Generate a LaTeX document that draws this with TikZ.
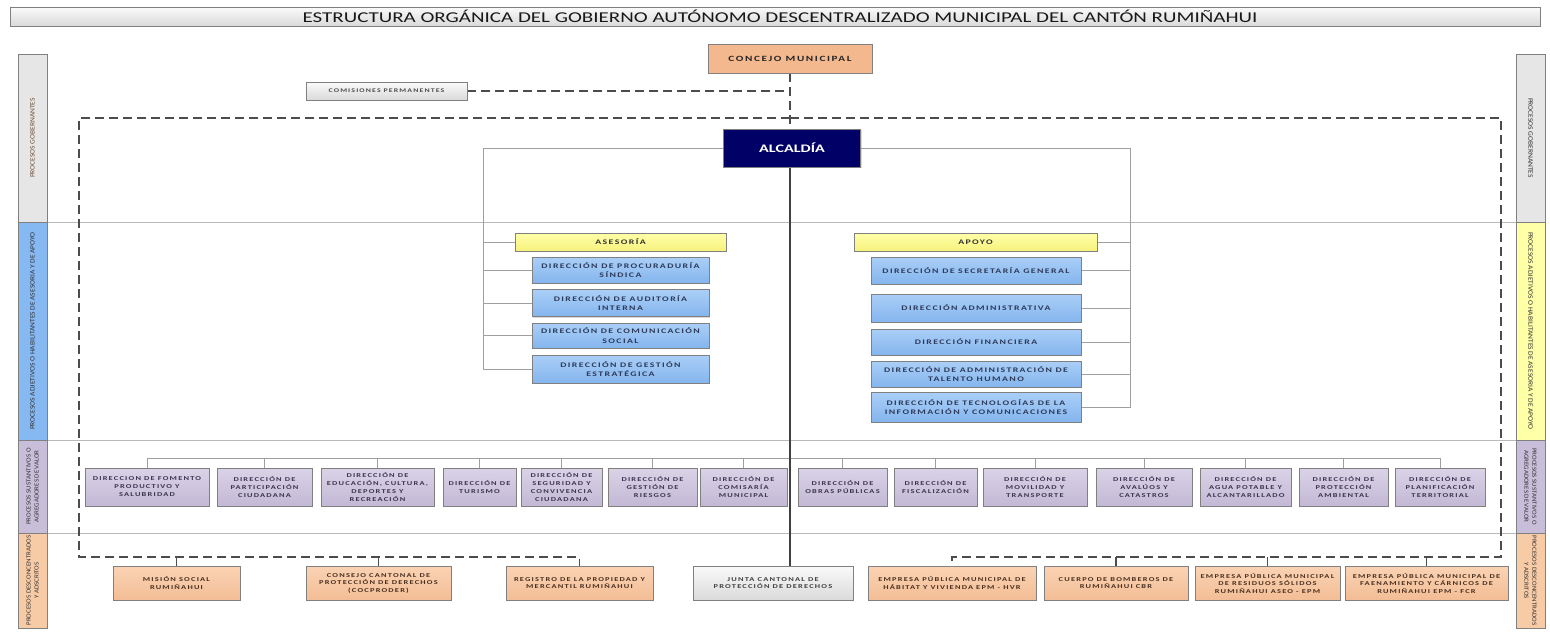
\documentclass[tikz,border=0pt]{standalone}
\usepackage{fontspec}
\setmainfont{Carlito}[FakeStretch=1.4]
\newfontfamily\boxf{Carlito}[FakeStretch=1.4,LetterSpace=20]
\newfontfamily\sidef{Carlito}[FakeStretch=1.1]
\usetikzlibrary{shadows,backgrounds}
\definecolor{bord}{HTML}{808080}
\definecolor{blueT}{HTML}{AACFF7}
\definecolor{blueB}{HTML}{84B5EE}
\definecolor{blueTx}{HTML}{2E3A59}
\definecolor{lavT}{HTML}{DAD3E7}
\definecolor{lavB}{HTML}{C3B8D5}
\definecolor{lavTx}{HTML}{3B3550}
\definecolor{peach}{HTML}{F8CBA7}
\definecolor{peachT}{HTML}{FAD3B4}
\definecolor{peachB}{HTML}{F3BD95}
\definecolor{peachTx}{HTML}{4A3020}
\definecolor{concejo}{HTML}{F3B88D}
\definecolor{yelT}{HTML}{FFFFAA}
\definecolor{yelB}{HTML}{F7F27C}
\definecolor{yelbar}{HTML}{FFFFA8}
\definecolor{greyT}{HTML}{FAFAFA}
\definecolor{greyB}{HTML}{DADADA}
\definecolor{greybar}{HTML}{E6E6E6}
\definecolor{bluebar}{HTML}{86B8F2}
\definecolor{lavbar}{HTML}{C9BEDA}
\definecolor{navy}{HTML}{000066}
\definecolor{sidetx}{HTML}{333333}
\definecolor{sidebr}{HTML}{6E5034}
\tikzset{
  bx/.style={draw=bord, line width=0.7pt, inner sep=0pt, align=center,
    drop shadow={shadow xshift=1.3pt, shadow yshift=-1.3pt, opacity=0.3}},
  bluebox/.style={bx, top color=blueT, bottom color=blueB, text=blueTx,
    font=\boxf\bfseries\fontsize{7}{9.5}\selectfont},
  lavbox/.style={bx, top color=lavT, bottom color=lavB, text=lavTx,
    font=\boxf\bfseries\fontsize{6}{8}\selectfont, minimum height=38pt},
  peachbox/.style={bx, top color=peachT, bottom color=peachB, text=peachTx,
    font=\boxf\bfseries\fontsize{6}{7.5}\selectfont, minimum height=34pt},
  greybox/.style={bx, top color=greyT, bottom color=greyB, text=black!75},
  yelbox/.style={bx, top color=yelT, bottom color=yelB, text=black!80,
    font=\boxf\bfseries\fontsize{7}{8}\selectfont, minimum height=18pt},
  sidebar/.style={draw=bord, line width=0.7pt, minimum width=29pt, inner sep=0pt,
    drop shadow={shadow xshift=1.3pt, shadow yshift=-1.3pt, opacity=0.3}},
  sidetxt/.style={font=\sidef\fontsize{6.8}{7.5}\selectfont, text=sidetx, align=center, inner sep=0pt},
  sidetxtt/.style={sidetxt, font=\sidef\fontsize{6.3}{8}\selectfont},
  conn/.style={draw=gray!75, line width=0.9pt},
  spine/.style={draw=black!75, line width=1.4pt},
  dsh/.style={draw=black!70, line width=1.2pt, dash pattern=on 9pt off 5pt},
  sepline/.style={draw=gray!55, line width=1.4pt},
}
\begin{document}
\begin{tikzpicture}[x=1pt,y=-1pt]
\useasboundingbox (0,0) rectangle (1550,642);

% title
\node[greybox, minimum width=1530pt, minimum height=19pt,
  font=\fontsize{15}{16}\selectfont, text=black!90] (title) at (775,16.5)
  {\hspace{10pt}ESTRUCTURA ORGÁNICA DEL GOBIERNO AUTÓNOMO DESCENTRALIZADO MUNICIPAL DEL CANTÓN RUMIÑAHUI};

% side bars left
\node[sidebar, fill=greybar, minimum height=168pt] (lgob) at (32.5,138) {};
\node[sidebar, fill=bluebar, minimum height=218pt] (ladj) at (32.5,331) {};
\node[sidebar, fill=lavbar, minimum height=93pt] (lsus) at (32.5,486.5) {};
\node[sidebar, fill=peach, minimum height=95pt] (ldes) at (32.5,580.5) {};
\node[sidetxt, rotate=90, text=sidebr] (lgobt) at (lgob) {PROCESOS GOBERNANTES};
\node[sidetxt, rotate=90] (ladjt) at (ladj) {PROCESOS ADJETIVOS O HABILITANTES DE ASESORIA Y DE APOYO};
\node[sidetxtt, rotate=90] (lsust) at (lsus) {PROCESOS SUSTANTIVOS O\\AGREGADORES DE VALOR};
\node[sidetxtt, rotate=90] (ldest) at (ldes) {PROCESOS DESCONCENTRADOS\\Y ADSCRITOS};
% side bars right
\node[sidebar, fill=greybar, minimum height=168pt] (rgob) at (1530.5,138) {};
\node[sidebar, fill=yelbar, minimum height=218pt] (radj) at (1530.5,331) {};
\node[sidebar, fill=lavbar, minimum height=93pt] (rsus) at (1530.5,486.5) {};
\node[sidebar, fill=peach, minimum height=95pt] (rdes) at (1530.5,580.5) {};
\node[sidetxt, rotate=-90] (rgobt) at (rgob) {PROCESOS GOBERNANTES};
\node[sidetxt, rotate=-90] (radjt) at (radj) {PROCESOS ADJETIVOS O HABILITANTES DE ASESORIA Y DE APOYO};
\node[sidetxtt, rotate=-90] (rsust) at (rsus) {PROCESOS SUSTANTIVOS O\\AGREGADORES DE VALOR};
\node[sidetxtt, rotate=-90] (rdest) at (rdes) {PROCESOS DESCONCENTRADOS\\Y ADSCRITOS};

% top
\node[bx, fill=concejo, text=black!85, minimum width=164pt, minimum height=29pt,
  font=\boxf\bfseries\fontsize{8}{9}\selectfont] (conc) at (790,58.5) {CONCEJO MUNICIPAL};
\node[greybox, minimum width=161pt, minimum height=18pt, text=black!70,
  font=\boxf\bfseries\fontsize{5.6}{7}\selectfont] (comi) at (386.5,91) {COMISIONES PERMANENTES};
\node[bx, fill=navy, text=white, minimum width=137pt, minimum height=38pt,
  font=\bfseries\fontsize{11.5}{12}\selectfont] (alc) at (792,148) {ALCALDÍA};

% asesoria
\node[yelbox, minimum width=211pt] (ases) at (620.5,242) {ASESORÍA};
\node[bluebox, minimum width=177pt, minimum height=26pt] (proc) at (620.5,270) {DIRECCIÓN DE PROCURADURÍA\\SÍNDICA};
\node[bluebox, minimum width=177pt, minimum height=27pt] (aud) at (620.5,303) {DIRECCIÓN DE AUDITORÍA\\INTERNA};
\node[bluebox, minimum width=177pt, minimum height=25pt] (comu) at (620.5,335.5) {DIRECCIÓN DE COMUNICACIÓN\\SOCIAL};
\node[bluebox, minimum width=177pt, minimum height=28pt] (gest) at (620.5,369) {DIRECCIÓN DE GESTIÓN\\ESTRATÉGICA};
% apoyo
\node[yelbox, minimum width=243pt] (apo) at (975.5,242) {APOYO};
\node[bluebox, minimum width=210pt, minimum height=27pt] (sec) at (976,270.5) {DIRECCIÓN DE SECRETARÍA GENERAL};
\node[bluebox, minimum width=210pt, minimum height=28pt] (adm) at (976,308) {DIRECCIÓN ADMINISTRATIVA};
\node[bluebox, minimum width=210pt, minimum height=26pt] (fin) at (976,342) {DIRECCIÓN FINANCIERA};
\node[bluebox, minimum width=210pt, minimum height=26pt] (tal) at (976,374) {DIRECCIÓN DE ADMINISTRACIÓN DE\\TALENTO HUMANO};
\node[bluebox, minimum width=210pt, minimum height=30pt] (tec) at (976,407) {DIRECCIÓN DE TECNOLOGÍAS DE LA\\INFORMACIÓN Y COMUNICACIONES};

% sustantivos
\node[lavbox, minimum width=124pt] (fom) at (147,487) {DIRECCION DE FOMENTO\\PRODUCTIVO Y\\SALUBRIDAD};
\node[lavbox, minimum width=95pt] (par) at (264.5,487) {DIRECCIÓN DE\\PARTICIPACIÓN\\CIUDADANA};
\node[lavbox, minimum width=113pt] (edu) at (377.5,487) {DIRECCIÓN DE\\EDUCACIÓN, CULTURA,\\DEPORTES Y\\RECREACIÓN};
\node[lavbox, minimum width=73pt] (tur) at (479.5,487) {DIRECCIÓN DE\\TURISMO};
\node[lavbox, minimum width=81pt] (seg) at (561.5,487) {DIRECCIÓN DE\\SEGURIDAD Y\\CONVIVENCIA\\CIUDADANA};
\node[lavbox, minimum width=89pt] (rie) at (652.5,487) {DIRECCIÓN DE\\GESTIÓN DE\\RIESGOS};
\node[lavbox, minimum width=87pt] (cms) at (743.5,487) {DIRECCIÓN DE\\COMISARÍA\\MUNICIPAL};
\node[lavbox, minimum width=89pt] (obr) at (842.5,487) {DIRECCIÓN DE\\OBRAS PÚBLICAS};
\node[lavbox, minimum width=83pt] (fis) at (935.5,487) {DIRECCIÓN DE\\FISCALIZACIÓN};
\node[lavbox, minimum width=104pt] (mov) at (1035,487) {DIRECCIÓN DE\\MOVILIDAD Y\\TRANSPORTE};
\node[lavbox, minimum width=96pt] (ava) at (1144,487) {DIRECCIÓN DE\\AVALÚOS Y\\CATASTROS};
\node[lavbox, minimum width=91pt] (agu) at (1245.5,487) {DIRECCIÓN DE\\AGUA POTABLE Y\\ALCANTARILLADO};
\node[lavbox, minimum width=89pt] (amb) at (1343.5,487) {DIRECCIÓN DE\\PROTECCIÓN\\AMBIENTAL};
\node[lavbox, minimum width=90pt] (pla) at (1440,487) {DIRECCIÓN DE\\PLANIFICACIÓN\\TERRITORIAL};

% desconcentrados
\node[peachbox, minimum width=127pt] (mis) at (176.5,583) {MISIÓN SOCIAL\\RUMIÑAHUI};
\node[peachbox, minimum width=145pt] (ccpd) at (378.5,583) {CONSEJO CANTONAL DE\\PROTECCIÓN DE DERECHOS\\(COCPRODER)};
\node[peachbox, minimum width=147pt] (reg) at (579.5,583) {REGISTRO DE LA PROPIEDAD Y\\MERCANTIL RUMIÑAHUI};
\node[greybox, minimum width=160pt, minimum height=34pt,
  font=\boxf\bfseries\fontsize{6}{7.5}\selectfont] (jun) at (773,583) {JUNTA CANTONAL DE\\PROTECCIÓN DE DERECHOS};
\node[peachbox, minimum width=168pt] (hvr) at (952,583) {EMPRESA PÚBLICA MUNICIPAL DE\\HÁBITAT Y VIVIENDA EPM - HVR};
\node[peachbox, minimum width=144pt] (bom) at (1116,583) {CUERPO DE BOMBEROS DE\\RUMIÑAHUI CBR};
\node[peachbox, minimum width=145pt] (ase) at (1267.5,583) {EMPRESA PÚBLICA MUNICIPAL\\DE RESIDUOS SÓLIDOS\\RUMIÑAHUI ASEO - EPM};
\node[peachbox, minimum width=163pt] (fcr) at (1426.5,583) {EMPRESA PÚBLICA MUNICIPAL DE\\FAENAMIENTO Y CÁRNICOS DE\\RUMIÑAHUI EPM - FCR};

% helper coordinates
\coordinate (sp) at (790,0);
\coordinate (LB) at (483,147);
\coordinate (RB) at (1130,147);
\coordinate (sbar) at (0,458);
\coordinate (frTL) at (79,118);
\coordinate (frBL) at (79,557);
\coordinate (frTR) at (1501,118);
\coordinate (frBR) at (1501,557);

\begin{scope}[on background layer]
% separators
\draw[sepline] (lgob.south east) -- (rgob.south west);
\draw[sepline] (ladj.south east) -- (radj.south west);
\draw[sepline] (lsus.south east) -- (rsus.south west);
% alcaldia bracket
\draw[conn] (alc.west) -| (gest.west -| LB) -- (gest.west);
\foreach \n in {ases,proc,aud,comu} \draw[conn] (\n.west -| LB) -- (\n.west);
\draw[conn] (alc.east) -| (tec.east -| RB) -- (tec.east);
\foreach \n in {apo,sec,adm,fin,tal} \draw[conn] (\n.east -| RB) -- (\n.east);
% sustantivos bracket
\draw[conn] (fom.north) -- (fom.north |- sbar) -- (pla.north |- sbar) -- (pla.north);
\foreach \n in {par,edu,tur,seg,rie,cms,obr,fis,mov,ava,agu,amb} \draw[conn] (\n.north |- sbar) -- (\n.north);
% dashed
\draw[dsh] (conc.south) -- (alc.north -| conc.south);
\draw[dsh] (comi.east) -- (comi.east -| conc.south);
\draw[dsh] (frTL -| conc.south) -- (frTL) -- (frBL) -- (frBL -| reg.north) -- (reg.north);
\foreach \n in {mis,ccpd} \draw[dsh] (\n.north |- frBL) -- (\n.north);
\draw[dsh] (frTR -| conc.south) -- (frTR) -- (frBR) -- (frBR -| hvr.north) -- (hvr.north);
\foreach \n in {bom,ase,fcr} \draw[dsh] (\n.north |- frBR) -- (\n.north);
% spine
\draw[spine] (alc.south -| sp) -- (jun.north -| sp);
\end{scope}
\end{tikzpicture}
\end{document}
